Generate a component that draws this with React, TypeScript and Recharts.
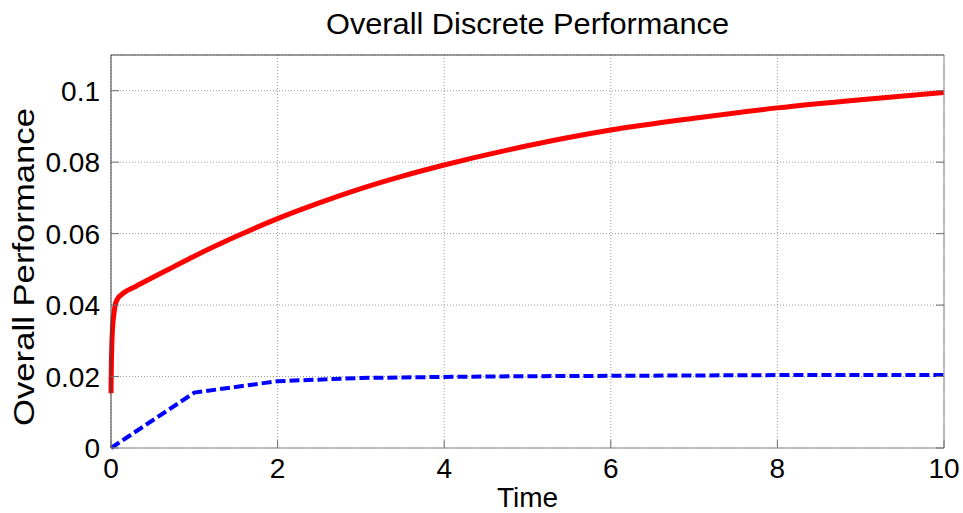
import { CartesianGrid, Label, Line, LineChart, XAxis, YAxis } from "recharts";

// red curve (solid) — sampled densely at the start where it shoots up
const redTime = [
  0, 0.005, 0.01, 0.02, 0.035, 0.05, 0.08, 0.12, 0.17, 0.25, 0.35, 0.5, 0.75, 1,
  1.5, 2, 2.5, 3, 3.5, 4, 5, 6, 7, 8, 9, 10,
];
const redValue = [
  0.0153, 0.024, 0.029, 0.034, 0.0375, 0.04, 0.0418, 0.0428, 0.0437, 0.0447,
  0.0459, 0.0477, 0.0507, 0.0537, 0.0592, 0.0642, 0.0686, 0.0726, 0.0761,
  0.0792, 0.0846, 0.089, 0.0923, 0.0952, 0.0975, 0.0995,
];

// blue curve (dashed)
const blueTime = [0, 1, 2, 3, 4, 5, 6, 7, 8, 9, 10];
const blueValue = [
  0, 0.0155, 0.0187, 0.0196, 0.0199, 0.0201, 0.0202, 0.0203, 0.0204, 0.0204,
  0.0204,
];

const xTicks = [0, 2, 4, 6, 8, 10];
const yTicks = [0, 0.02, 0.04, 0.06, 0.08, 0.1];

const redData = redTime.map((t, i) => ({ t, v: redValue[i] }));
const blueData = blueTime.map((t, i) => ({ t, v: blueValue[i] }));

const FONT = "'Liberation Sans', Arial, Helvetica, sans-serif";
const TICK_COLOR = "#707070";
const TICK_LEN = 8;

const BottomTick = (props: any) => {
  const { x, y, payload } = props;
  return (
    <g>
      <line x1={x} y1={y} x2={x} y2={y - TICK_LEN} stroke={TICK_COLOR} />
      <text
        x={x}
        y={y + 30}
        textAnchor="middle"
        fontSize={28}
        fontFamily={FONT}
        fill="#000"
      >
        {payload.value}
      </text>
    </g>
  );
};

const TopTick = (props: any) => {
  const { x, y } = props;
  return <line x1={x} y1={y} x2={x} y2={y + TICK_LEN} stroke={TICK_COLOR} />;
};

const LeftTick = (props: any) => {
  const { x, y, payload } = props;
  return (
    <g>
      <line x1={x} y1={y} x2={x + TICK_LEN} y2={y} stroke={TICK_COLOR} />
      <text
        x={x - 11}
        y={y + 10}
        textAnchor="end"
        fontSize={28}
        fontFamily={FONT}
        fill="#000"
      >
        {String(payload.value)}
      </text>
    </g>
  );
};

const RightTick = (props: any) => {
  const { x, y } = props;
  return <line x1={x} y1={y} x2={x - TICK_LEN} y2={y} stroke={TICK_COLOR} />;
};

const TitleLabel = (props: any) => {
  const { viewBox } = props;
  const cx = viewBox.x + viewBox.width / 2;
  return (
    <text
      x={cx}
      y={34}
      textAnchor="middle"
      fontSize={30}
      fontFamily={FONT}
      textLength={403}
      lengthAdjust="spacingAndGlyphs"
      fill="#000"
    >
      Overall Discrete Performance
    </text>
  );
};

const TimeLabel = (props: any) => {
  const { viewBox } = props;
  const cx = viewBox.x + viewBox.width / 2;
  return (
    <text
      x={cx}
      y={507}
      textAnchor="middle"
      fontSize={28}
      fontFamily={FONT}
      fill="#000"
    >
      Time
    </text>
  );
};

const PerfLabel = () => (
  <text
    transform="translate(34,267) rotate(-90)"
    textAnchor="middle"
    fontSize={29}
    fontFamily={FONT}
    textLength={318}
    lengthAdjust="spacingAndGlyphs"
    fill="#000"
  >
    Overall Performance
  </text>
);

export default function App() {
  return (
    <div
      style={{
        position: "absolute",
        left: 0,
        top: 0,
        width: 963,
        height: 513,
        background: "#fff",
      }}
    >
      <LineChart
        width={963}
        height={513}
        margin={{ top: 0, right: 0, bottom: 0, left: 0 }}
      >
        <CartesianGrid stroke="#9a9a9a" strokeDasharray="1 2" />
        <XAxis
          dataKey="t"
          type="number"
          domain={[0, 10]}
          ticks={xTicks}
          height={65}
          tickSize={0}
          tickMargin={0}
          tickLine={false}
          axisLine={{ stroke: "#8a8a8a" }}
          tick={<BottomTick />}
          interval={0}
        >
          <Label content={<TimeLabel />} />
        </XAxis>
        <XAxis
          xAxisId="top"
          orientation="top"
          type="number"
          domain={[0, 10]}
          allowDataOverflow
          ticks={xTicks}
          height={55}
          tickSize={0}
          tickMargin={0}
          tickLine={false}
          axisLine={{ stroke: "#404040" }}
          tick={<TopTick />}
          interval={0}
        >
          <Label content={<TitleLabel />} />
        </XAxis>
        <YAxis
          type="number"
          domain={[0, 0.11]}
          ticks={yTicks}
          width={111}
          tickSize={0}
          tickMargin={0}
          tickLine={false}
          axisLine={{ stroke: "#404040" }}
          tick={<LeftTick />}
          interval={0}
        >
          <Label content={<PerfLabel />} />
        </YAxis>
        <YAxis
          yAxisId="right"
          orientation="right"
          type="number"
          domain={[0, 0.11]}
          allowDataOverflow
          ticks={yTicks}
          width={19}
          tickSize={0}
          tickMargin={0}
          tickLine={false}
          axisLine={{ stroke: "#8a8a8a" }}
          tick={<RightTick />}
          interval={0}
        />
        <Line
          data={blueData}
          dataKey="v"
          type="linear"
          stroke="#0000ff"
          strokeWidth={4}
          strokeDasharray="10 4"
          dot={false}
          activeDot={false}
          isAnimationActive={false}
        />
        <Line
          data={redData}
          dataKey="v"
          type="monotone"
          stroke="#ff0000"
          strokeWidth={5}
          dot={false}
          activeDot={false}
          isAnimationActive={false}
        />
      </LineChart>
    </div>
  );
}
